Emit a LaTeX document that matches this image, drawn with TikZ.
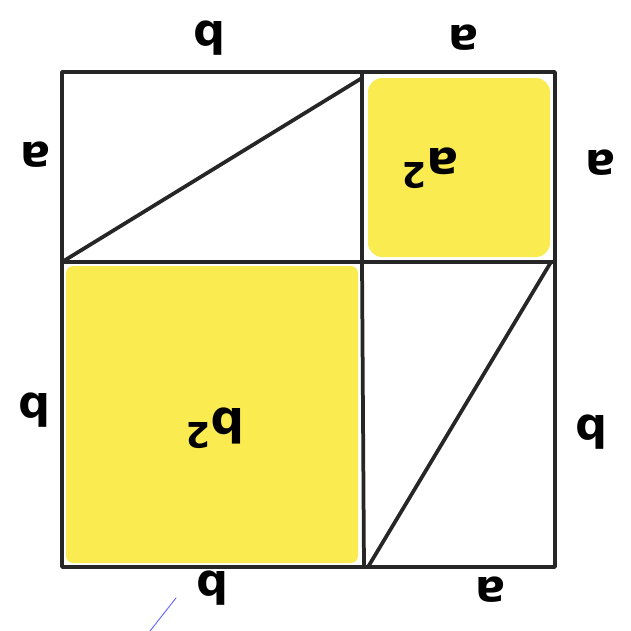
\documentclass[tikz,border=0pt]{standalone}
\usepackage{fontspec}
\setsansfont{DejaVu Sans}

\definecolor{pencilyellow}{RGB}{250,236,80}

\begin{document}
\begin{tikzpicture}[x=0.03cm, y=-0.03cm, line join=round, line cap=round,
    edge/.style={line width=3.2pt, black!85},
    lbl/.style={rotate=180, font=\sffamily\bfseries\fontsize{38}{44}\selectfont},
    sq/.style={rotate=180, font=\sffamily\bfseries\fontsize{40}{46}\selectfont}]
  \useasboundingbox (0,0) rectangle (631,631);
  % Corners of the big square and the dividing point
  \coordinate (tl) at (62,72);
  \coordinate (tr) at (555,72);
  \coordinate (br) at (555,567);
  \coordinate (bl) at (62,567);
  \coordinate (c) at (362,262);
  % Shaded squares
  \fill[pencilyellow, rounded corners=12] (368,78) rectangle (550,257);
  \fill[pencilyellow, rounded corners=6] (66,266) rectangle (358,563);
  % Outline and dividers
  \draw[edge] (tl) -- (tr) -- (br) -- (bl) -- cycle;
  \draw[edge] (362,72) -- (c) -- (364,567);
  \draw[edge] (62,262) -- (c) -- (555,262);
  % Diagonals
  \draw[edge] (62,262) -- (362,78);
  \draw[edge] (368,567) -- (551,262);
  % Side labels (upside down)
  \node[lbl] (top1) at (210,38) {b};
  \node[lbl] (top2) at (463,38) {a};
  \node[lbl] (left1) at (35,155) {a};
  \node[lbl] (right1) at (600,163) {a};
  \node[lbl] (left2) at (35,410) {b};
  \node[lbl] (right2) at (592,432) {b};
  \node[lbl] (bot1) at (213,588) {b};
  \node[lbl] (bot2) at (490,590) {a};
  % Area labels
  \node[sq] (asq) at (430,168) {a{\fontsize{30}{34}\selectfont\raisebox{0.75ex}{2}}};
  \node[sq] (bsq) at (215,428) {b{\fontsize{30}{34}\selectfont\raisebox{0.75ex}{2}}};
  % Stray pen mark
  \draw[blue!60, line width=0.8pt] (176,598) -- (150,631);
\end{tikzpicture}
\end{document}
